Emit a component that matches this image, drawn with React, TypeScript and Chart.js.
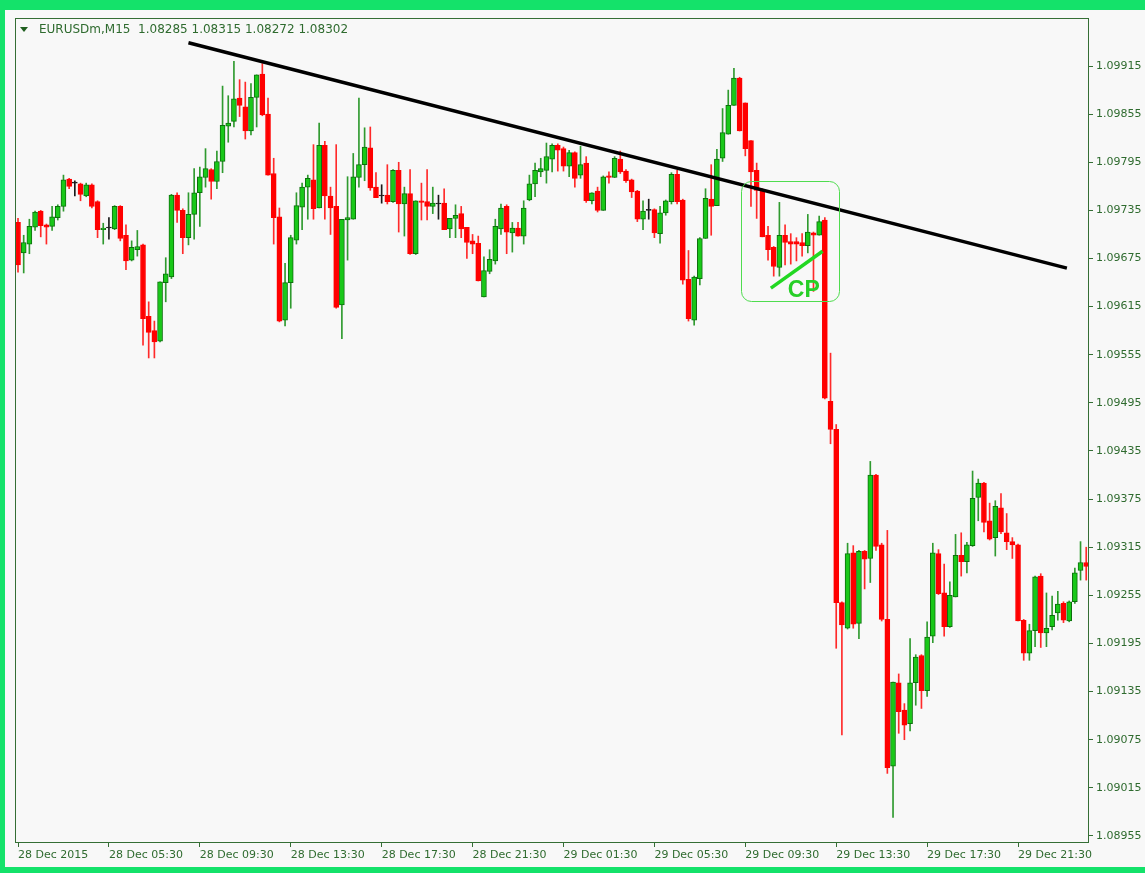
import React, { useEffect, useRef } from 'react';
import { Chart, registerables } from 'chart.js';

Chart.register(...registerables);

// ---- EURUSDm M15 candles, 28 Dec 2015 01:30 onwards ----
const OPEN = [
  1.09720, 1.09682, 1.09693, 1.09714, 1.09734, 1.09717, 1.09715, 1.09726, 1.09740, 1.09774,
  1.09769, 1.09768, 1.09753, 1.09767, 1.09746, 1.09711, 1.09713, 1.09712, 1.09740, 1.09704,
  1.09673, 1.09686, 1.09692, 1.09603, 1.09585, 1.09572, 1.09645, 1.09652, 1.09754, 1.09735,
  1.09701, 1.09730, 1.09757, 1.09776, 1.09786, 1.09771, 1.09796, 1.09840, 1.09846, 1.09875,
  1.09864, 1.09834, 1.09876, 1.09905, 1.09855, 1.09781, 1.09727, 1.09598, 1.09645, 1.09698,
  1.09739, 1.09764, 1.09773, 1.09738, 1.09816, 1.09753, 1.09740, 1.09617, 1.09723, 1.09724,
  1.09776, 1.09792, 1.09813, 1.09764, 1.09753, 1.09754, 1.09746, 1.09785, 1.09743, 1.09756,
  1.09681, 1.09747, 1.09746, 1.09740, 1.09743, 1.09744, 1.09712, 1.09725, 1.09731, 1.09714,
  1.09697, 1.09694, 1.09627, 1.09659, 1.09672, 1.09712, 1.09740, 1.09707, 1.09713, 1.09703,
  1.09748, 1.09768, 1.09783, 1.09785, 1.09799, 1.09816, 1.09812, 1.09790, 1.09807, 1.09779,
  1.09794, 1.09747, 1.09759, 1.09735, 1.09778, 1.09776, 1.09799, 1.09784, 1.09773, 1.09759,
  1.09724, 1.09735, 1.09736, 1.09706, 1.09732, 1.09746, 1.09780, 1.09748, 1.09649, 1.09598,
  1.09650, 1.09700, 1.09749, 1.09741, 1.09800, 1.09830, 1.09866, 1.09900, 1.09869, 1.09822,
  1.09785, 1.09760, 1.09704, 1.09689, 1.09664, 1.09704, 1.09696, 1.09696, 1.09695, 1.09691,
  1.09707, 1.09704, 1.09723, 1.09497, 1.09462, 1.09246, 1.09214, 1.09308, 1.09220, 1.09310,
  1.09301, 1.09405, 1.09318, 1.09225, 1.09042, 1.09146, 1.09112, 1.09095, 1.09146, 1.09180,
  1.09136, 1.09204, 1.09307, 1.09258, 1.09216, 1.09253, 1.09305, 1.09297, 1.09317, 1.09377,
  1.09395, 1.09348, 1.09327, 1.09364, 1.09333, 1.09322, 1.09318, 1.09224, 1.09183, 1.09211,
  1.09279, 1.09208, 1.09216, 1.09233, 1.09245, 1.09223, 1.09247, 1.09286, 1.09296,
];
const HIGH = [
  1.09725, 1.09704, 1.09724, 1.09734, 1.09735, 1.09718, 1.09740, 1.09742, 1.09779, 1.09775,
  1.09772, 1.09769, 1.09769, 1.09768, 1.09747, 1.09719, 1.09726, 1.09741, 1.09741, 1.09717,
  1.09697, 1.09710, 1.09693, 1.09621, 1.09597, 1.09646, 1.09676, 1.09755, 1.09757, 1.09737,
  1.09757, 1.09787, 1.09789, 1.09812, 1.09787, 1.09809, 1.09890, 1.09878, 1.09921, 1.09898,
  1.09895, 1.09893, 1.09904, 1.09918, 1.09875, 1.09800, 1.09738, 1.09669, 1.09704, 1.09757,
  1.09769, 1.09779, 1.09817, 1.09844, 1.09821, 1.09764, 1.09817, 1.09724, 1.09777, 1.09806,
  1.09875, 1.09838, 1.09839, 1.09782, 1.09767, 1.09792, 1.09786, 1.09795, 1.09764, 1.09786,
  1.09747, 1.09769, 1.09786, 1.09764, 1.09754, 1.09762, 1.09725, 1.09742, 1.09740, 1.09714,
  1.09705, 1.09703, 1.09677, 1.09686, 1.09724, 1.09743, 1.09742, 1.09720, 1.09720, 1.09747,
  1.09779, 1.09794, 1.09800, 1.09819, 1.09818, 1.09818, 1.09814, 1.09810, 1.09808, 1.09815,
  1.09802, 1.09757, 1.09764, 1.09778, 1.09783, 1.09802, 1.09809, 1.09786, 1.09774, 1.09760,
  1.09747, 1.09749, 1.09737, 1.09740, 1.09748, 1.09782, 1.09785, 1.09749, 1.09685, 1.09653,
  1.09701, 1.09762, 1.09792, 1.09811, 1.09862, 1.09885, 1.09912, 1.09901, 1.09869, 1.09822,
  1.09794, 1.09762, 1.09715, 1.09690, 1.09745, 1.09717, 1.09706, 1.09701, 1.09706, 1.09730,
  1.09708, 1.09728, 1.09726, 1.09557, 1.09468, 1.09247, 1.09320, 1.09317, 1.09311, 1.09311,
  1.09422, 1.09406, 1.09320, 1.09336, 1.09147, 1.09157, 1.09120, 1.09201, 1.09181, 1.09181,
  1.09222, 1.09320, 1.09312, 1.09294, 1.09272, 1.09331, 1.09333, 1.09321, 1.09410, 1.09400,
  1.09396, 1.09370, 1.09373, 1.09382, 1.09357, 1.09327, 1.09319, 1.09225, 1.09219, 1.09279,
  1.09282, 1.09258, 1.09254, 1.09260, 1.09247, 1.09248, 1.09289, 1.09322, 1.09315,
];
const LOW = [
  1.09658, 1.09657, 1.09681, 1.09710, 1.09702, 1.09693, 1.09710, 1.09723, 1.09734, 1.09762,
  1.09753, 1.09747, 1.09752, 1.09738, 1.09701, 1.09693, 1.09699, 1.09711, 1.09697, 1.09661,
  1.09672, 1.09678, 1.09567, 1.09551, 1.09551, 1.09571, 1.09621, 1.09650, 1.09720, 1.09681,
  1.09692, 1.09699, 1.09715, 1.09764, 1.09749, 1.09762, 1.09782, 1.09820, 1.09839, 1.09852,
  1.09824, 1.09829, 1.09839, 1.09853, 1.09779, 1.09693, 1.09596, 1.09591, 1.09613, 1.09693,
  1.09711, 1.09724, 1.09724, 1.09738, 1.09724, 1.09705, 1.09613, 1.09575, 1.09673, 1.09724,
  1.09764, 1.09772, 1.09760, 1.09751, 1.09744, 1.09743, 1.09745, 1.09708, 1.09703, 1.09680,
  1.09680, 1.09723, 1.09723, 1.09731, 1.09724, 1.09711, 1.09701, 1.09701, 1.09701, 1.09675,
  1.09681, 1.09647, 1.09627, 1.09656, 1.09668, 1.09705, 1.09681, 1.09683, 1.09703, 1.09693,
  1.09747, 1.09752, 1.09777, 1.09769, 1.09783, 1.09784, 1.09784, 1.09777, 1.09764, 1.09775,
  1.09745, 1.09743, 1.09733, 1.09735, 1.09769, 1.09776, 1.09781, 1.09770, 1.09751, 1.09721,
  1.09711, 1.09724, 1.09701, 1.09694, 1.09729, 1.09743, 1.09743, 1.09643, 1.09597, 1.09592,
  1.09642, 1.09700, 1.09704, 1.09741, 1.09796, 1.09830, 1.09866, 1.09834, 1.09803, 1.09740,
  1.09725, 1.09702, 1.09673, 1.09653, 1.09653, 1.09667, 1.09668, 1.09672, 1.09678, 1.09682,
  1.09634, 1.09704, 1.09500, 1.09444, 1.09189, 1.09081, 1.09213, 1.09214, 1.09201, 1.09263,
  1.09271, 1.09311, 1.09223, 1.09033, 1.08978, 1.09083, 1.09075, 1.09086, 1.09118, 1.09114,
  1.09129, 1.09196, 1.09256, 1.09204, 1.09215, 1.09253, 1.09279, 1.09283, 1.09316, 1.09348,
  1.09334, 1.09324, 1.09304, 1.09332, 1.09312, 1.09301, 1.09223, 1.09174, 1.09174, 1.09191,
  1.09190, 1.09191, 1.09212, 1.09224, 1.09221, 1.09222, 1.09245, 1.09274, 1.09274,
];
const CLOSE = [
  1.09667, 1.09695, 1.09715, 1.09733, 1.09716, 1.09714, 1.09727, 1.09740, 1.09773, 1.09765,
  1.09769, 1.09755, 1.09767, 1.09740, 1.09711, 1.09713, 1.09713, 1.09740, 1.09700, 1.09672,
  1.09689, 1.09690, 1.09600, 1.09583, 1.09571, 1.09646, 1.09656, 1.09754, 1.09735, 1.09701,
  1.09730, 1.09757, 1.09777, 1.09787, 1.09771, 1.09796, 1.09841, 1.09844, 1.09874, 1.09866,
  1.09834, 1.09876, 1.09904, 1.09854, 1.09779, 1.09726, 1.09597, 1.09645, 1.09701, 1.09741,
  1.09764, 1.09775, 1.09737, 1.09816, 1.09753, 1.09738, 1.09614, 1.09724, 1.09726, 1.09777,
  1.09792, 1.09814, 1.09763, 1.09751, 1.09753, 1.09746, 1.09785, 1.09743, 1.09756, 1.09681,
  1.09747, 1.09745, 1.09740, 1.09744, 1.09743, 1.09711, 1.09725, 1.09729, 1.09712, 1.09695,
  1.09693, 1.09647, 1.09660, 1.09674, 1.09715, 1.09738, 1.09708, 1.09713, 1.09703, 1.09738,
  1.09768, 1.09785, 1.09787, 1.09802, 1.09816, 1.09810, 1.09790, 1.09807, 1.09775, 1.09792,
  1.09747, 1.09757, 1.09735, 1.09777, 1.09776, 1.09800, 1.09783, 1.09772, 1.09758, 1.09724,
  1.09734, 1.09735, 1.09707, 1.09732, 1.09747, 1.09780, 1.09746, 1.09648, 1.09600, 1.09652,
  1.09700, 1.09750, 1.09740, 1.09799, 1.09832, 1.09866, 1.09900, 1.09834, 1.09812, 1.09783,
  1.09760, 1.09702, 1.09686, 1.09665, 1.09704, 1.09695, 1.09693, 1.09693, 1.09691, 1.09708,
  1.09704, 1.09721, 1.09501, 1.09462, 1.09246, 1.09218, 1.09307, 1.09219, 1.09310, 1.09300,
  1.09405, 1.09316, 1.09225, 1.09040, 1.09147, 1.09110, 1.09093, 1.09146, 1.09178, 1.09136,
  1.09203, 1.09308, 1.09257, 1.09216, 1.09255, 1.09305, 1.09297, 1.09318, 1.09376, 1.09395,
  1.09346, 1.09325, 1.09366, 1.09334, 1.09322, 1.09318, 1.09223, 1.09183, 1.09211, 1.09278,
  1.09208, 1.09214, 1.09230, 1.09244, 1.09224, 1.09247, 1.09283, 1.09296, 1.09291,
];

// time axis: one label every 16 bars (4 hours of M15 bars)
const TICK_LABELS = [
  '28 Dec 2015', '28 Dec 05:30', '28 Dec 09:30', '28 Dec 13:30', '28 Dec 17:30', '28 Dec 21:30',
  '29 Dec 01:30', '29 Dec 05:30', '29 Dec 09:30', '29 Dec 13:30', '29 Dec 17:30', '29 Dec 21:30',
];
const BARS_PER_LABEL = 16;

// price axis ticks
const PRICE_TICKS = [
  1.08955, 1.09015, 1.09075, 1.09135, 1.09195, 1.09255, 1.09315, 1.09375, 1.09435,
  1.09495, 1.09555, 1.09615, 1.09675, 1.09735, 1.09795, 1.09855, 1.09915,
];
const Y_MIN = 1.089462;
const Y_MAX = 1.099749;
const X_MIN = -0.53;
const X_MAX = 188.49;

const SYMBOL = 'EURUSDm,M15';
const QUOTE = ['1.08285', '1.08315', '1.08272', '1.08302'];

// hand-drawn objects (in bar index / price units)
const TREND = [{ x: 30, y: 1.09944 }, { x: 184.6, y: 1.09663 }];
const CP_LINE = [{ x: 132.5, y: 1.09638 }, { x: 141.6, y: 1.09684 }];
const CP_BOX = { x0: 127.2, x1: 144.4, yLow: 1.09622, yHigh: 1.09772 };
const CP_LABEL = { x: 138.3, y: 1.09635, text: 'CP' };

const BULL_FILL = '#19c819';
const BULL_EDGE = '#0d6f0d';
const BULL_WICK = '#2f9a2f';
const BEAR_FILL = '#ff0000';
const BEAR_WICK = '#ff2a2a';
const DOJI = '#1a1a1a';
const FRAME = '#356e35';
const TEXT = '#2f6b2f';
const BG = '#f8f8f8';
const OUTER = '#14e26a';

export default function App() {
  const ref = useRef<HTMLCanvasElement | null>(null);

  useEffect(() => {
    document.body.style.margin = '0';
    const canvas = ref.current;
    if (!canvas) return;

    const idx = OPEN.map((_, i) => i);
    const kind = idx.map((i) => (CLOSE[i] > OPEN[i] ? 'bull' : CLOSE[i] < OPEN[i] ? 'bear' : 'doji'));
    const bodyFill = kind.map((k) => (k === 'bull' ? BULL_FILL : k === 'bear' ? BEAR_FILL : DOJI));
    const bodyEdge = kind.map((k) => (k === 'bull' ? BULL_EDGE : k === 'bear' ? BEAR_FILL : DOJI));
    const wickCol = kind.map((k) => (k === 'bull' ? BULL_WICK : k === 'bear' ? BEAR_WICK : DOJI));

    const decor = {
      id: 'decor',
      beforeDraw(chart: any) {
        const { ctx, width, height } = chart;
        ctx.save();
        ctx.fillStyle = BG;
        ctx.fillRect(0, 0, width, height);
        ctx.fillStyle = OUTER;
        ctx.fillRect(0, 0, width, 10);
        ctx.fillRect(0, 0, 5, height);
        ctx.fillRect(0, height - 6, width, 6);
        ctx.restore();
      },
      afterDatasetsDraw(chart: any) {
        const { ctx, chartArea, scales } = chart;
        const xs = scales.x;
        const ys = scales.y;
        ctx.save();
        // CP box
        const bx0 = xs.getPixelForValue(CP_BOX.x0);
        const bx1 = xs.getPixelForValue(CP_BOX.x1);
        const by0 = ys.getPixelForValue(CP_BOX.yHigh);
        const by1 = ys.getPixelForValue(CP_BOX.yLow);
        ctx.strokeStyle = '#4fdc4f';
        ctx.lineWidth = 1;
        ctx.beginPath();
        (ctx as any).roundRect(Math.round(bx0) + 0.5, Math.round(by0) + 0.5, Math.round(bx1 - bx0), Math.round(by1 - by0), 10);
        ctx.stroke();
        // CP label
        ctx.fillStyle = '#27cf27';
        ctx.font = 'bold 23px "Liberation Sans", Arial, sans-serif';
        ctx.textAlign = 'center';
        ctx.textBaseline = 'middle';
        ctx.fillText(CP_LABEL.text, xs.getPixelForValue(CP_LABEL.x), ys.getPixelForValue(CP_LABEL.y));
        // frame
        ctx.strokeStyle = FRAME;
        ctx.lineWidth = 1;
        ctx.strokeRect(
          Math.round(chartArea.left) + 0.5,
          Math.round(chartArea.top) + 0.5,
          Math.round(chartArea.right - chartArea.left) - 1,
          Math.round(chartArea.bottom - chartArea.top) - 1
        );
        // header
        const hx = chartArea.left + 4;
        const hy = chartArea.top + 12;
        ctx.fillStyle = '#1f5f1f';
        ctx.beginPath();
        ctx.moveTo(hx + 1, hy - 3);
        ctx.lineTo(hx + 9, hy - 3);
        ctx.lineTo(hx + 5, hy + 2);
        ctx.closePath();
        ctx.fill();
        ctx.fillStyle = TEXT;
        ctx.font = '12px "DejaVu Sans", sans-serif';
        ctx.textAlign = 'left';
        ctx.textBaseline = 'middle';
        ctx.fillText(SYMBOL + '  ' + QUOTE.join(' '), hx + 20, hy);
        ctx.restore();
      },
    };

    const chart = new Chart(canvas, {
      type: 'bar',
      data: {
        datasets: [
          {
            type: 'line',
            label: 'CP',
            data: CP_LINE,
            borderColor: '#22d822',
            borderWidth: 3.5,
            pointRadius: 0,
            order: 0,
          } as any,
          {
            type: 'line',
            label: 'trend',
            data: TREND,
            borderColor: '#000000',
            borderWidth: 3.5,
            pointRadius: 0,
            order: 1,
          } as any,
          {
            label: 'body',
            data: idx.map((i) => ({ x: i, y: [OPEN[i], CLOSE[i]] })),
            backgroundColor: bodyFill,
            borderColor: bodyEdge,
            borderWidth: 1,
            borderSkipped: false,
            barThickness: 5,
            minBarLength: 1,
            grouped: false,
            order: 2,
          } as any,
          {
            label: 'wick',
            data: idx.map((i) => ({ x: i, y: [LOW[i], HIGH[i]] })),
            backgroundColor: wickCol,
            borderWidth: 0,
            barThickness: 1,
            grouped: false,
            order: 3,
          } as any,
        ],
      },
      options: {
        animation: false,
        responsive: false,
        devicePixelRatio: 1,
        layout: { padding: { left: 15, top: 18, right: 0, bottom: 0 } },
        plugins: { legend: { display: false }, tooltip: { enabled: false } },
        scales: {
          x: {
            type: 'linear',
            min: X_MIN,
            max: X_MAX,
            offset: false,
            afterBuildTicks: (scale: any) => {
              scale.ticks = TICK_LABELS.map((_, k) => ({ value: k * BARS_PER_LABEL }));
            },
            afterFit: (scale: any) => {
              scale.height = 30;
            },
            grid: {
              display: true,
              drawOnChartArea: false,
              drawTicks: true,
              tickLength: 4,
              color: FRAME,
              offset: false,
            },
            border: { display: false },
            ticks: {
              autoSkip: false,
              maxRotation: 0,
              minRotation: 0,
              align: 'start',
              padding: 2,
              color: TEXT,
              font: { family: '"DejaVu Sans", sans-serif', size: 11 },
              callback: (v: any) => TICK_LABELS[Math.round(Number(v) / BARS_PER_LABEL)],
            },
          },
          y: {
            type: 'linear',
            position: 'right',
            min: Y_MIN,
            max: Y_MAX,
            afterBuildTicks: (scale: any) => {
              scale.ticks = PRICE_TICKS.map((v) => ({ value: v }));
            },
            afterFit: (scale: any) => {
              scale.width = 56;
            },
            grid: {
              display: true,
              drawOnChartArea: false,
              drawTicks: true,
              tickLength: 4,
              color: FRAME,
            },
            border: { display: false },
            ticks: {
              autoSkip: false,
              padding: 3,
              color: TEXT,
              font: { family: '"DejaVu Sans", sans-serif', size: 11 },
              callback: (v: any) => Number(v).toFixed(5),
            },
          },
        },
      },
      plugins: [decor],
    } as any);

    return () => chart.destroy();
  }, []);

  return (
    <div style={{ width: 1145, height: 873, position: 'relative', overflow: 'hidden' }}>
      <canvas ref={ref} width={1145} height={873} style={{ display: 'block', width: 1145, height: 873 }} />
    </div>
  );
}
